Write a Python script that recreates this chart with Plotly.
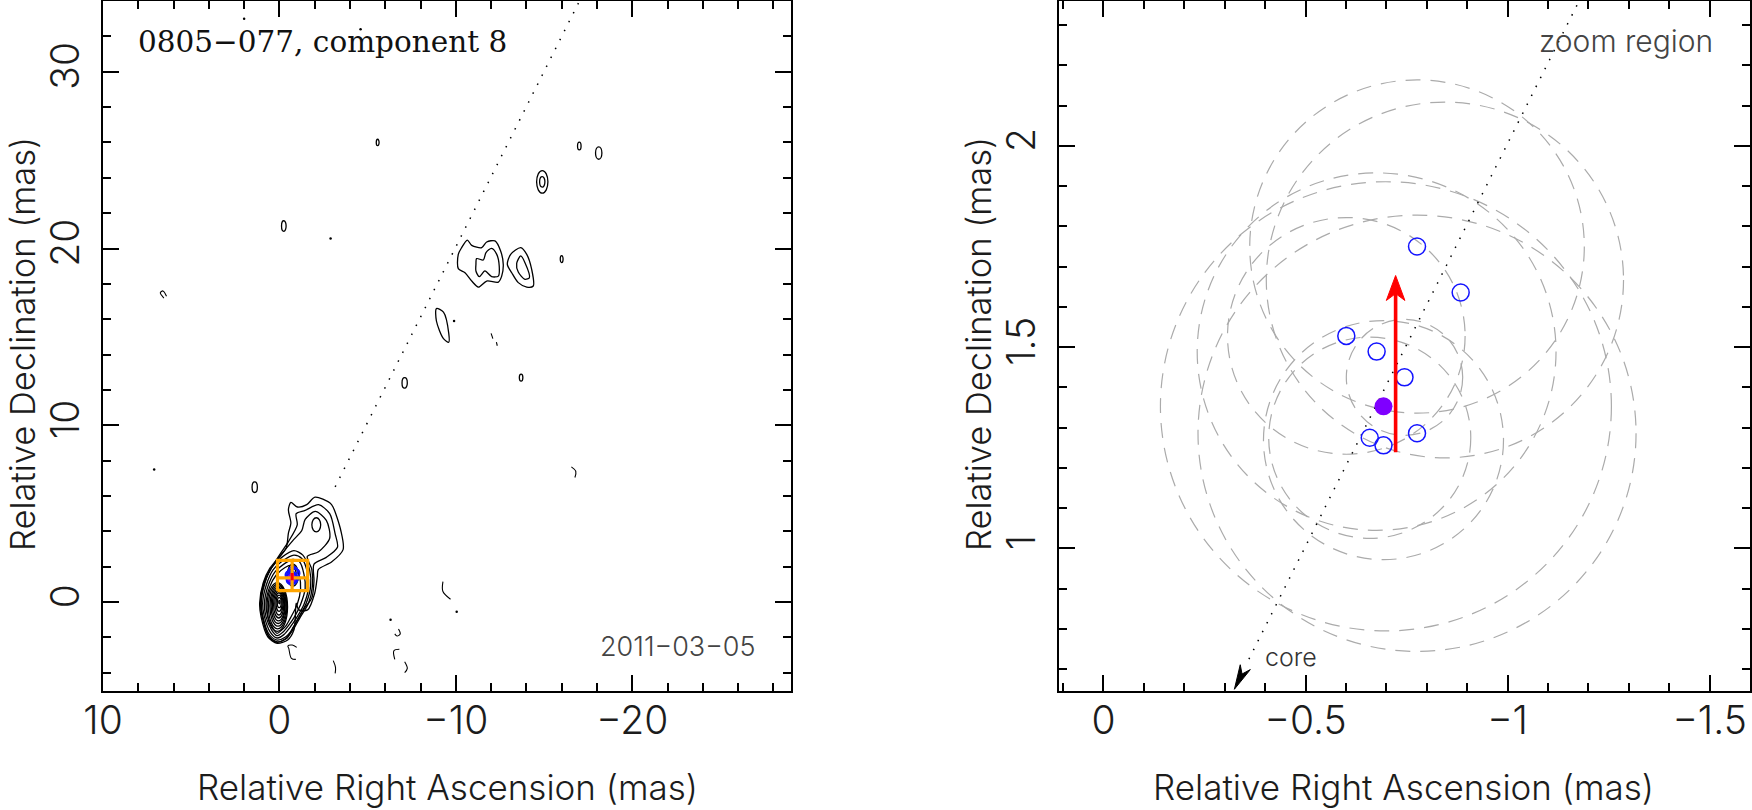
import plotly.graph_objects as go

W, H = 1752, 810
FONT = "Inter"
INK = "#1c1c1c"

# ---- axes limits (mas)
left_x_range = [10.0, -29.0]
left_y_range = [-5.0, 34.0]
zoom_x_range = [0.11, -1.6]
zoom_y_range = [0.647, 2.36]

left_x_ticks = [10, 0, -10, -20]
left_x_text = ["10", "0", "\u221210", "\u221220"]
left_y_ticks = [0, 10, 20, 30]
left_y_text = ["0", "10", "20", "30"]
zoom_x_ticks = [0, -0.5, -1, -1.5]
zoom_x_text = ["0", "\u22120.5", "\u22121", "\u22121.5"]
zoom_y_ticks = [1, 1.5, 2]
zoom_y_text = ["1", "1.5", "2"]

# ---- contours of the map: RA, Dec pairs (mas)
c1_x = [0.92,0.54,0.06,-0.38,-0.51,-0.65,-0.51,-0.65,-1.02,-1.55,-2.02,-2.87,-3.04,-3.48,-3.61,-2.97,-2.2,-2.15,-2.0,-1.6,-1.1,-0.95,-0.9,-0.82,-0.47,0.13,0.66,1.04,1.12,0.92]
c1_y = [1.08,1.92,2.49,3.05,3.90,4.47,5.22,5.64,5.38,5.51,5.94,5.60,5.38,4.05,2.97,2.28,1.84,1.46,0.5,-0.44,-0.44,-0.06,-0.9,-1.58,-2.14,-2.33,-1.96,-0.82,-0.06,1.08]
c2_x = [1.08,0.89,0.51,0,-0.51,-1.01,-0.95,-1.46,-2.22,-2.85,-3.16,-3.29,-2.66,-1.96,-1.96,-1.84,-1.39,-0.76,-0.44,0.13,0.63,0.98,1.08]
c2_y = [-0.06,1.08,1.84,2.66,3.42,4.37,5.0,5.19,5.51,5.0,3.86,3.10,2.53,2.15,1.20,0.25,-0.38,-1.46,-2.03,-2.28,-1.90,-0.82,-0.06]
c3_x = [1.06,0.85,0.47,-0.13,-0.76,-1.27,-1.46,-2.03,-2.66,-2.85,-2.22,-1.58,-1.84,-1.87,-1.65,-1.2,-0.76,-0.32,0.13,0.6,0.95,1.06]
c3_y = [-0.06,1.08,1.90,2.72,3.48,4.05,4.68,5.13,4.62,3.61,2.85,2.59,1.84,0.89,-0.06,-0.82,-1.58,-2.09,-2.25,-1.93,-0.85,-0.06]
c4_x = [1.03,0.82,0.44,-0.13,-0.82,-1.33,-1.71,-1.77,-1.52,-1.08,-0.7,-0.32,0.13,0.57,0.92,1.03]
c4_y = [-0.06,1.08,1.96,2.53,2.91,2.66,1.84,0.89,-0.06,-0.89,-1.58,-1.99,-2.15,-1.84,-0.89,-0.06]
c5_x = [0.95,0.73,0.35,-0.19,-0.82,-1.27,-1.58,-1.65,-1.39,-1.01,-0.63,-0.25,0.13,0.51,0.85,0.95]
c5_y = [-0.06,1.01,1.84,2.34,2.66,2.47,1.71,0.82,-0.13,-0.82,-1.39,-1.84,-2.03,-1.71,-0.82,-0.06]
c6_x = [0.85,0.63,0.25,-0.25,-0.76,-1.14,-1.39,-1.46,-1.2,-0.82,-0.51,-0.19,0.13,0.44,0.76,0.85]
c6_y = [-0.06,0.95,1.71,2.15,2.41,2.28,1.58,0.76,-0.13,-0.89,-1.33,-1.71,-1.9,-1.58,-0.82,-0.06]
c7_x = [0.76,0.54,0.19,-0.32,-0.7,-0.95,-1.14,-1.2,-1.01,-0.63,-0.38,-0.13,0.13,0.38,0.66,0.76]
c7_y = [-0.06,0.89,1.52,1.96,2.09,1.9,1.46,0.76,-0.13,-0.89,-1.33,-1.58,-1.77,-1.46,-0.82,-0.06]

# knots well down the jet
k1_x = [-10.14,-10.33,-10.65,-10.90,-11.47,-11.75,-12.22,-12.54,-12.69,-12.60,-12.41,-11.75,-11.28,-10.90,-10.52,-10.14,-10.14]
k1_y = [19.67,20.05,20.48,20.18,20.05,20.37,20.43,19.86,19.10,18.44,18.10,18.16,17.82,18.16,18.63,18.86,19.67]
k2_x = [-11.14,-11.18,-11.56,-11.71,-12.03,-12.32,-12.46,-12.41,-12.03,-11.65,-11.33,-11.14,-11.14]
k2_y = [19.10,19.43,19.35,19.77,20.01,19.67,19.01,18.44,18.41,18.73,18.41,18.73,19.10]
k3_x = [-12.92,-13.11,-13.68,-14.02,-14.30,-14.39,-14.02,-13.54,-13.17,-12.92]
k3_y = [19.10,19.67,20.05,19.67,18.82,17.88,17.82,18.07,18.63,19.10]
k4_x = [-13.45,-13.68,-13.92,-14.17,-13.92,-13.54,-13.45]
k4_y = [19.16,19.58,19.20,18.35,18.26,18.67,19.16]
k5_x = [-8.9,-9.3,-9.6,-9.6,-9.3,-8.9,-8.9]
k5_y = [16.6,16.4,15.2,14.7,14.9,15.9,16.6]

# little open arcs
arc1_x = [-0.98,-0.73,-0.48,-0.53,-0.68,-0.93]
arc1_y = [-2.56,-2.43,-2.48,-2.62,-3.18,-3.24]
arc2_x = [-3.05,-3.18,-3.16]
arc2_y = [-3.31,-3.69,-4.03]
arc3_x = [-6.75,-6.85,-6.67,-6.54]
arc3_y = [-1.52,-1.80,-1.92,-1.80]
arc4_x = [-6.8,-6.49,-6.54]
arc4_y = [-2.67,-2.75,-3.24]
arc5_x = [-7.1,-7.25,-7.1]
arc5_y = [-3.37,-3.75,-3.99]
arc6_x = [-9.27,-9.27,-9.7]
arc6_y = [1.16,0.6,0.16]
arc7_x = [6.4,6.6,6.75,6.55]
arc7_y = [17.3,17.6,17.5,17.2]
arc8_x = [-16.55,-16.8,-16.75]
arc8_y = [7.65,7.4,7.05]
arc9_x = [-12.0,-12.1]
arc9_y = [15.2,14.9]
arc10_x = [-12.3,-12.35]
arc10_y = [14.7,14.5]
arcs = [(arc1_x, arc1_y), (arc2_x, arc2_y), (arc3_x, arc3_y), (arc4_x, arc4_y), (arc5_x, arc5_y),
        (arc6_x, arc6_y), (arc7_x, arc7_y), (arc8_x, arc8_y), (arc9_x, arc9_y), (arc10_x, arc10_y)]

# tiny specks
speck_x = [-2.9, -10.05, -6.3, 2.0, -4.6, 7.1, -9.9]
speck_y = [20.57, -0.54, -1.0, 33.0, 32.4, 7.5, 15.9]

# compact closed contours: centre RA, centre Dec, half widths (mas)
blob_cx = [0.12,0.10,0.08,0.07,0.05,0.04,0.03,0.02,0.01,0.0,
           -0.76,-0.76,-2.09,
           -14.9,-14.9,-0.25,-5.57,-17.0,-18.1,-16.0,1.4,-7.1,-13.7]
blob_cy = [-0.28,-0.25,-0.22,-0.19,-0.16,-0.13,-0.10,-0.07,-0.03,0.0,
           1.52,1.52,4.37,
           23.77,23.77,21.27,26.0,25.8,25.4,19.4,6.5,12.4,12.7]
blob_rx = [0.58,0.52,0.46,0.40,0.35,0.29,0.23,0.17,0.11,0.04,
           0.32,0.20,0.25,
           0.32,0.15,0.13,0.08,0.10,0.18,0.08,0.15,0.15,0.10]
blob_ry = [1.38,1.26,1.14,1.02,0.90,0.77,0.63,0.46,0.28,0.10,
           0.62,0.42,0.40,
           0.64,0.30,0.30,0.18,0.22,0.35,0.20,0.30,0.30,0.20]

# jet direction (dotted) and marks
jet_left_x = [-3.16, -16.96]
jet_left_y = [6.52, 33.9]
jet_zoom_x = [-0.36, -1.175]
jet_zoom_y = [0.725, 2.356]

point_ra = [-0.776,-0.884,-0.601,-0.676,-0.745,-0.776,-0.659,-0.693]
point_dec = [1.75,1.636,1.528,1.489,1.425,1.286,1.275,1.256]
mean_ra = [-0.693]
mean_dec = [1.353]
arrow_ra = [-0.723, -0.723]
arrow_dec = [1.239, 1.64]

red_head_x = [-0.723,-0.700,-0.723,-0.746,-0.723]
red_head_y = [1.678,1.616,1.633,1.616,1.678]
core_head_x = [-0.324,-0.3385,-0.343,-0.3635,-0.324]
core_head_y = [0.65,0.711,0.688,0.699,0.65]

# dashed error circles (mas)
err_x = [-0.776,-0.845,-0.601,-0.676,-0.745,-0.776,-0.659,-0.693,-0.699]
err_y = [1.75,1.667,1.528,1.489,1.425,1.286,1.275,1.269,1.353]
err_r = [0.414,0.442,0.294,0.444,0.144,0.542,0.25,0.297,0.558]

# zoom window drawn on the map
box_x = [zoom_x_range[0], zoom_x_range[1], zoom_x_range[1], zoom_x_range[0], zoom_x_range[0]]
box_y = [zoom_y_range[0], zoom_y_range[0], zoom_y_range[1], zoom_y_range[1], zoom_y_range[0]]
cross_h_x = [zoom_x_range[0], zoom_x_range[1]]
cross_h_y = [1.37, 1.37]
cross_v_x = [-0.72, -0.72]
cross_v_y = [zoom_y_range[0], zoom_y_range[1]]

fig = go.Figure()
A = dict(xaxis="x", yaxis="y", showlegend=False, hoverinfo="skip")
B = dict(xaxis="x2", yaxis="y2", showlegend=False, hoverinfo="skip")

for cx, cy in [(c1_x, c1_y), (c2_x, c2_y), (c3_x, c3_y), (c4_x, c4_y), (c5_x, c5_y), (c6_x, c6_y), (c7_x, c7_y)]:
    fig.add_trace(go.Scatter(x=cx, y=cy, mode="lines", line=dict(color="black", width=1.3, shape="spline", smoothing=0.8), **A))
for cx, cy in [(k1_x, k1_y), (k2_x, k2_y), (k3_x, k3_y), (k4_x, k4_y), (k5_x, k5_y)]:
    fig.add_trace(go.Scatter(x=cx, y=cy, mode="lines", line=dict(color="black", width=1.3, shape="spline", smoothing=0.8), **A))
for cx, cy in arcs:
    fig.add_trace(go.Scatter(x=cx, y=cy, mode="lines", line=dict(color="black", width=1.1, shape="spline"), **A))
fig.add_trace(go.Scatter(x=speck_x, y=speck_y, mode="markers", marker=dict(color="black", size=2.5), **A))
fig.add_trace(go.Scatter(x=jet_left_x, y=jet_left_y, mode="lines", line=dict(color="black", width=1.5, dash="1.5px,8.5px"), **A))

fig.add_trace(go.Scatter(x=point_ra, y=point_dec, mode="markers",
                         marker=dict(symbol="circle-open", size=9, color="#1414ff", line=dict(width=2)), **A))
fig.add_trace(go.Scatter(x=mean_ra, y=mean_dec, mode="markers", marker=dict(size=9, color="#7f00ff"), **A))
fig.add_trace(go.Scatter(x=box_x, y=box_y, mode="lines", line=dict(color="#ffa500", width=3.2), **A))
fig.add_trace(go.Scatter(x=cross_h_x, y=cross_h_y, mode="lines", line=dict(color="#ffa500", width=3.2), **A))
fig.add_trace(go.Scatter(x=cross_v_x, y=cross_v_y, mode="lines", line=dict(color="#ffa500", width=3.2), **A))
fig.add_trace(go.Scatter(x=arrow_ra, y=arrow_dec, mode="lines", line=dict(color="#ff0000", width=3), **A))

fig.add_trace(go.Scatter(x=jet_zoom_x, y=jet_zoom_y, mode="lines", line=dict(color="black", width=1.5, dash="1.5px,8.5px"), **B))
fig.add_trace(go.Scatter(x=point_ra, y=point_dec, mode="markers",
                         marker=dict(symbol="circle-open", size=17, color="#1414ff", line=dict(width=1.5)), **B))
fig.add_trace(go.Scatter(x=mean_ra, y=mean_dec, mode="markers", marker=dict(size=18, color="#7f00ff"), **B))
fig.add_trace(go.Scatter(x=arrow_ra, y=arrow_dec, mode="lines", line=dict(color="#ff0000", width=3.6), **B))
fig.add_trace(go.Scatter(x=red_head_x, y=red_head_y, mode="lines", fill="toself", fillcolor="#ff0000", line=dict(color="#ff0000", width=1), **B))
fig.add_trace(go.Scatter(x=core_head_x, y=core_head_y, mode="lines", fill="toself", fillcolor="black", line=dict(color="black", width=1), **B))

shapes = []
for cx, cy, rx, ry in zip(blob_cx, blob_cy, blob_rx, blob_ry):
    shapes.append(dict(type="circle", xref="x", yref="y", x0=cx - rx, x1=cx + rx, y0=cy - ry, y1=cy + ry,
                       line=dict(color="black", width=1.3), layer="below"))
for cx, cy, r in zip(err_x, err_y, err_r):
    shapes.append(dict(type="circle", xref="x2", yref="y2", x0=cx - r, x1=cx + r, y0=cy - r, y1=cy + r,
                       line=dict(color="#ababab", width=1.2, dash="15px,10px"), layer="below"))


def ax(rng, tv, tt, dtick, tick0, domain, anchor, angle=0, standoff=10):
    return dict(range=rng, domain=domain, anchor=anchor, tickmode="array", tickvals=tv, ticktext=tt,
                ticks="inside", ticklen=16, tickwidth=1.6, tickcolor="black",
                minor=dict(dtick=dtick, tick0=tick0, ticks="inside", ticklen=8, tickwidth=1.6, tickcolor="black"),
                showline=True, linewidth=2, linecolor="black", mirror="ticks", showgrid=False, zeroline=False,
                tickfont=dict(family=FONT, size=39, color=INK, weight=300), tickangle=angle, ticklabelstandoff=standoff)


def px(v):
    return v / W


def py(v):
    return 1 - v / H


x_left = [px(103), px(791)]
x_right = [px(1059), px(1750)]
y_dom = [py(690.5), py(1)]

layout_axes = dict(
    xaxis=ax(left_x_range, left_x_ticks, left_x_text, 2, 0, x_left, "y", standoff=-5),
    yaxis=ax(left_y_range, left_y_ticks, left_y_text, 2, 0, y_dom, "x", angle=-90, standoff=6),
    xaxis2=ax(zoom_x_range, zoom_x_ticks, zoom_x_text, 0.1, 0, x_right, "y2", standoff=-5),
    yaxis2=ax(zoom_y_range, zoom_y_ticks, zoom_y_text, 0.1, 0, y_dom, "x2", angle=-90, standoff=6),
)


def label(text, x, y, size, color=INK, family=FONT, xanchor="center", angle=0, weight=300):
    return dict(text=text, x=px(x), y=py(y), xref="paper", yref="paper", showarrow=False, xanchor=xanchor,
                yanchor="middle", textangle=angle, font=dict(family=family, size=size, color=color, weight=weight))


annotations = [
    label("Relative Right Ascension (mas)", 447, 787, 35),
    label("Relative Right Ascension (mas)", 1403, 787, 35),
    label("Relative Declination (mas)", 22, 344, 34.5, angle=-90),
    label("Relative Declination (mas)", 978, 344, 34.5, angle=-90),
    label("0805\u2212077, component 8", 136, 42, 29.5, color="#111111", family="DejaVu Serif", xanchor="left", weight=400),
    label("2011\u221203\u221205", 758, 646, 27, color="#444444", xanchor="right"),
    label("zoom region", 1715, 41, 30, color="#444444", xanchor="right"),
    label("core", 1263, 657, 25, color="#333333", xanchor="left"),
]

fig.update_layout(width=W, height=H, margin=dict(l=0, r=0, t=0, b=0, autoexpand=False), paper_bgcolor="white", plot_bgcolor="white",
                  showlegend=False, shapes=shapes, annotations=annotations, **layout_axes)

fig.write_html("out.html", config={"displayModeBar": False},
               post_script="document.body.style.margin='0';document.body.style.overflow='hidden';")
